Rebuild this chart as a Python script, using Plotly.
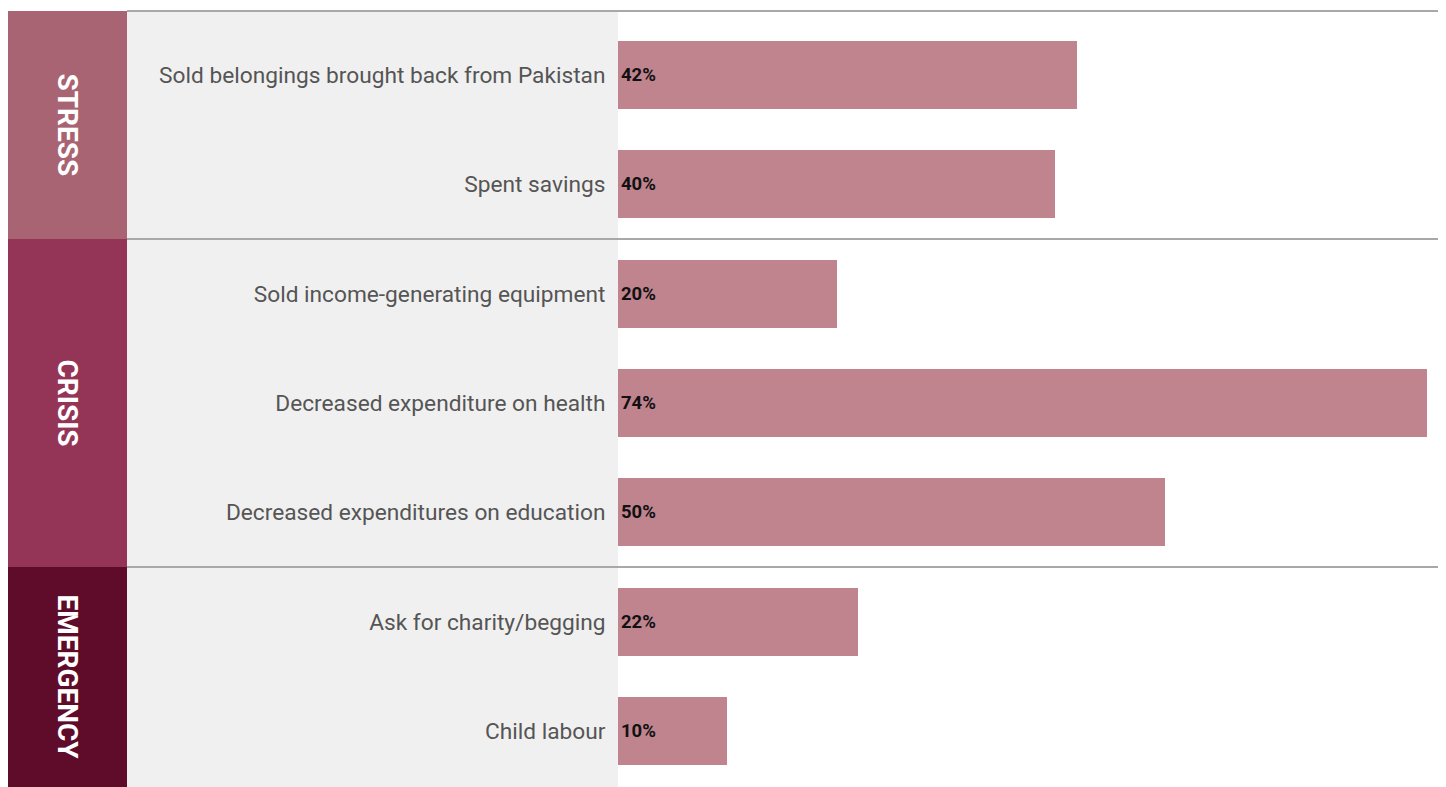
import plotly.graph_objects as go

categories = [
    "Sold belongings brought back from Pakistan",
    "Spent savings",
    "Sold income-generating equipment",
    "Decreased expenditure on health",
    "Decreased expenditures on education",
    "Ask for charity/begging",
    "Child labour",
]
values = [42, 40, 20, 74, 50, 22, 10]
groups = ["STRESS", "STRESS", "CRISIS", "CRISIS", "CRISIS", "EMERGENCY", "EMERGENCY"]
group_names = ["STRESS", "CRISIS", "EMERGENCY"]
group_colors = {"STRESS": "#A86472", "CRISIS": "#943558", "EMERGENCY": "#5F0C2B"}

# figure is placed at page offset (8, 8) by the default body margin
W, H = 1438, 779
row_px = 109.33
top_px = 67  # center of first row in figure pixels
y_top = -top_px / row_px
y_bot = (H - top_px) / row_px
y_frame_top = (3 - top_px) / row_px

BAND_X1 = 119
PANEL_X1 = 610

ypos = list(range(len(categories)))

fig = go.Figure()
fig.add_trace(go.Bar(
    x=values, y=ypos, orientation="h",
    marker=dict(color="#C0848F", line=dict(width=0)),
    width=0.62,
    text=[f"{v}%" for v in values],
    textposition="inside", insidetextanchor="start",
    textfont=dict(family="Roboto", size=18.5, color="#111111", weight="bold"),
    cliponaxis=False,
    hoverinfo="skip",
))

shapes = []
shapes.append(dict(type="rect", xref="paper", yref="y", x0=BAND_X1 / W, x1=PANEL_X1 / W,
                   y0=y_frame_top, y1=y_bot, fillcolor="#F0F0F0", line=dict(width=0), layer="below"))
annotations = []
start = 0
for g in group_names:
    n = groups.count(g)
    y0 = y_frame_top if start == 0 else start - 0.5
    y1 = y_bot if start + n == len(categories) else start + n - 0.5
    shapes.append(dict(type="rect", xref="paper", yref="y", x0=0, x1=BAND_X1 / W,
                       y0=y0, y1=y1, fillcolor=group_colors[g], line=dict(width=0), layer="below"))
    shapes.append(dict(type="line", xref="paper", yref="y", x0=BAND_X1 / W, x1=1,
                       y0=y0, y1=y0, line=dict(color="#A8A8A8", width=2), layer="above"))
    annotations.append(dict(text=g, xref="paper", yref="y", x=(BAND_X1 / 2) / W, y=(y0 + y1) / 2,
                            xanchor="center", yanchor="middle",
                            showarrow=False, textangle=90,
                            font=dict(family="Roboto", size=28, color="white", weight="bold")))
    start += n

fig.update_layout(
    width=W, height=H,
    margin=dict(l=0, r=0, t=0, b=0),
    paper_bgcolor="white", plot_bgcolor="white",
    showlegend=False,
    shapes=shapes, annotations=annotations,
    bargap=0,
    xaxis=dict(domain=[PANEL_X1 / W, 1], range=[0, 75.75], showgrid=False, zeroline=False,
               showticklabels=False, fixedrange=True),
    yaxis=dict(range=[y_bot, y_top], tickvals=ypos, ticktext=categories,
               showgrid=False, zeroline=False, ticks="outside", ticklen=7,
               tickcolor="rgba(0,0,0,0)",
               tickfont=dict(family="Roboto", size=22.7, color="#555555"), fixedrange=True),
)

fig.write_html("out.html")
